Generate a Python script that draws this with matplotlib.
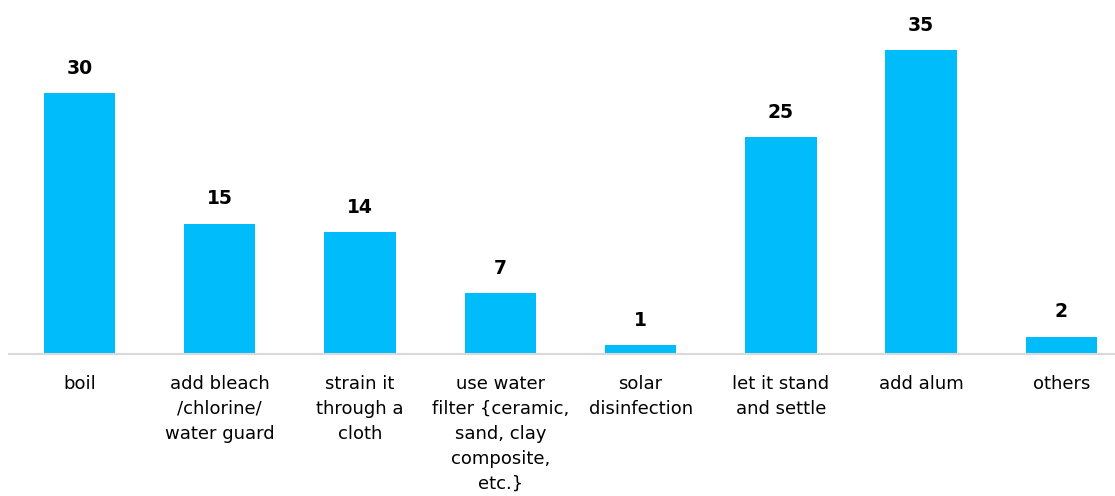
import matplotlib.pyplot as plt

categories = [
    "boil",
    "add bleach\n/chlorine/\nwater guard",
    "strain it\nthrough a\ncloth",
    "use water\nfilter {ceramic,\nsand, clay\ncomposite,\netc.}",
    "solar\ndisinfection",
    "let it stand\nand settle",
    "add alum",
    "others",
]
values = [30, 15, 14, 7, 1, 25, 35, 2]

BAR_COLOR = "#00BCFB"

fig = plt.figure(figsize=(11.15, 4.96), dpi=100)
ax = fig.add_axes([0.0083, 0.2863, 1.0066, 0.7004])

x = range(len(categories))
bars = ax.bar(x, values, width=0.51, color=BAR_COLOR, zorder=2)

for rect, v in zip(bars, values):
    ax.annotate(str(v), (rect.get_x() + rect.get_width() / 2, v),
                xytext=(0, 11), textcoords="offset points",
                ha="center", va="bottom", fontsize=13.5, fontweight="bold",
                color="black")

ax.set_xlim(-0.5, 7.5)
ax.set_ylim(0, 40)
ax.set_xticks(list(x))
ax.set_xticklabels(categories, fontsize=13, linespacing=1.5, va="top")
ax.tick_params(axis="x", length=0, pad=15)
ax.set_yticks([])

for side in ["top", "right", "left"]:
    ax.spines[side].set_visible(False)
ax.spines["bottom"].set_color("#d9d9d9")
ax.spines["bottom"].set_linewidth(1.5)

fig.savefig("out.png", dpi=100)
